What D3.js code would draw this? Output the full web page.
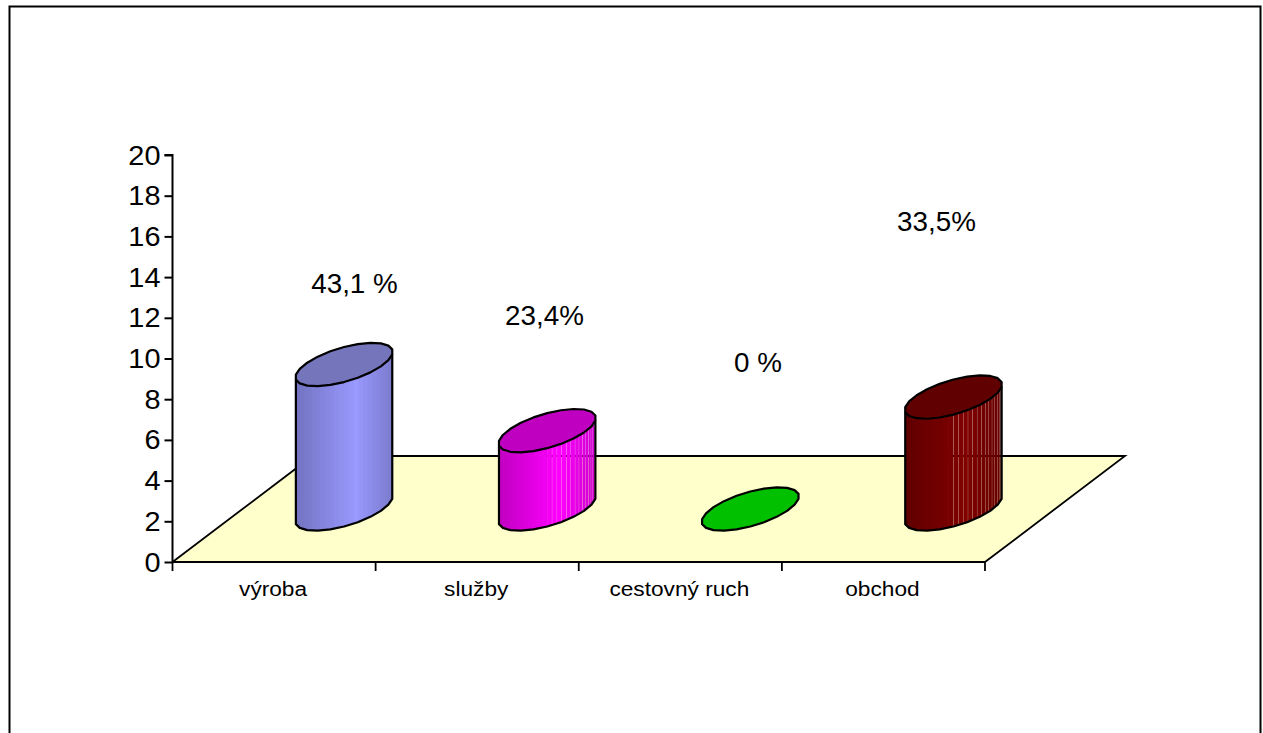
<!DOCTYPE html>
<html><head><meta charset="utf-8">
<script src="https://cdn.jsdelivr.net/npm/d3@7"></script>
<style>html,body{margin:0;padding:0;background:#fff;overflow:hidden}svg{display:block}text{font-family:"Liberation Sans",Arial,sans-serif;fill:#000}</style>
</head><body><svg id="c" width="1263" height="733"></svg>
<script>
const categories = ["výroba","služby","cestovný ruch","obchod"];
const values = [7.1,3.85,0,5.5];
const labels = ["43,1 %","23,4%","0 %","33,5%"];
const baseColors = ["#9999ff","#ff00ff","#00ff00","#800000"];
const topColors = ["#7575bb","#c000c0","#00c000","#600000"];
const yTicks = [0,2,4,6,8,10,12,14,16,18,20];
const labelPos = [[354.5,293],[544.5,325],[758,372],[936.5,231]];
const seamFrom = [99,14,99,13];

const svg = d3.select("#c");
const y = d3.scaleLinear().domain([0,20]).range([562,155]);
const x = d3.scaleBand().domain(categories).range([172.5,985]);
const depthX = 140, depthY = 106;
const R = 48.7, C = 21.7, B = C*depthX/depthY;
const t0 = Math.atan2(B, Math.sqrt(R*R-B*B));
const ex = (cx,p)=>cx+R*Math.cos(p);
const ey = (cy,p)=>cy-C*Math.sin(p+t0);
const line = d3.line();
const sw = 2.2;

svg.append("rect").attr("x",9.5).attr("y",6.5).attr("width",1251).attr("height",760)
  .attr("fill","#fff").attr("stroke","#000").attr("stroke-width",2);

const x0=x.range()[0], x1=x.range()[1], y0=y(0);
const floor=[[x0,y0],[x1,y0],[x1+depthX,y0-depthY],[x0+depthX,y0-depthY]];
svg.append("path").attr("d",line(floor)+"Z").attr("fill","#ffffcc").attr("stroke","none");
svg.append("path").attr("d",line([floor[0],floor[3],floor[2],floor[1]])).attr("fill","none").attr("stroke","#000").attr("stroke-width",1.8);

// axes
const yAxis = d3.axisLeft(y).tickValues(yTicks).tickSize(8);
const gy = svg.append("g").attr("transform",`translate(${x0},0)`).call(yAxis);
gy.selectAll("path,line").attr("stroke","#000").attr("stroke-width",2);
gy.select("path").attr("d",`M-8,${y(20)}H0V${y0}`);
gy.selectAll("text")
  .attr("x",0).attr("dy",null)
  .attr("text-anchor","end")
  .style("font-size","27px").style("font-family",'"Liberation Sans"').attr("fill","#000")
  .attr("transform",'translate(-12,9) scale(1.07,1)');

const xT = categories.map((c,i)=>x0+i*x.step()).concat([x1]);
svg.append("path").attr("d",`M${x0},${y0}H${x1}`).attr("stroke","#000").attr("stroke-width",2.2);
svg.selectAll(".xt").data(xT).join("line").attr("x1",d=>d).attr("x2",d=>d).attr("y1",y0).attr("y2",y0+9).attr("stroke","#000").attr("stroke-width",1.8);
svg.selectAll(".xl").data(categories).join("text")
  .attr("transform",d=>`translate(${x(d)+x.bandwidth()/2-1},596) scale(1.08,1)`)
  .attr("text-anchor","middle").style("font-size","21px").text(d=>d);

// cylinders
const N=28, M=11, H=Math.PI/M/2;
categories.forEach((c,i)=>{
  const cx=x(c)+x.bandwidth()/2+depthX/2, by=y0-depthY/2;
  const h=y(0)-y(values[i]), ty=by-h;
  const g=svg.append("g");
  const shade=d3.scaleLinear().domain([0,0.62,1]).range([0.75,1,0.8]);
  const base=d3.color(baseColors[i]);
  if(h>0){
    const span=Math.PI-2*H;
    const phi=k=>Math.PI+H+span*k/N;
    const solid=Math.min(seamFrom[i],N);
    const under=d3.range(0,solid+1).map(phi);
    const up=under.map(p=>[ex(cx,p),ey(ty,p)]);
    const dn=under.map(p=>[ex(cx,p),ey(by,p)]).reverse();
    g.append("path").attr("d",line(up.concat(dn))+"Z").attr("fill",d3.rgb(base.r*0.88,base.g*0.88,base.b*0.88).formatHex());
    for(let k=0;k<N;k++){
      const p1=phi(k), p2=phi(k+1);
      const xa=ex(cx,p1), xb=ex(cx,p2);
      const f=shade(((xa+xb)/2-(cx-R))/(2*R));
      const col=d3.rgb(base.r*f,base.g*f,base.b*f);
      const gap=k>=seamFrom[i]?0.22:-0.4;
      g.append("path").attr("d",line([[xa,ey(ty,p1)],[xb-gap,ey(ty,p2)],[xb-gap,ey(by,p2)],[xa,ey(by,p1)]])+"Z").attr("fill",col.formatHex());
    }
    const pts=d3.range(0,M).map(k=>Math.PI+H+2*H*k);
    const outline=[[ex(cx,pts[0]),ey(ty,pts[0])]].concat(pts.map(p=>[ex(cx,p),ey(by,p)])).concat([[ex(cx,pts[M-1]),ey(ty,pts[M-1])]]);
    g.append("path").attr("d",line(outline)).attr("fill","none").attr("stroke","#000").attr("stroke-width",sw).attr("stroke-linejoin","round");
  }
  const ell=d3.range(0,2*M).map(k=>{const p=H+2*H*k;return [ex(cx,p),ey(ty,p)];});
  g.append("path").attr("d",line(ell)+"Z").attr("fill",topColors[i]).attr("stroke","#000").attr("stroke-width",sw).attr("stroke-linejoin","round");
});

svg.selectAll(".dl").data(labels).join("text")
  .attr("transform",(d,i)=>`translate(${labelPos[i][0]},${labelPos[i][1]}) scale(1.03,1)`)
  .attr("text-anchor","middle").style("font-size","27px").text(d=>d);
</script></body></html>
